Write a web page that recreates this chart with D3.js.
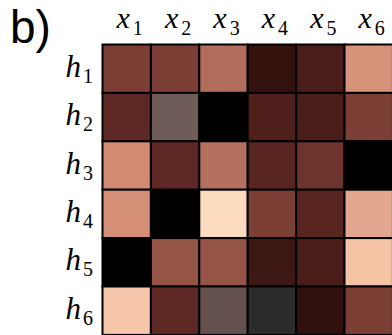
<!DOCTYPE html>
<html>
<head>
<meta charset="utf-8">
<script src="https://cdn.jsdelivr.net/npm/d3@7"></script>
<style>
  html, body { margin: 0; padding: 0; background: #fff; overflow: hidden; }
  svg { display: block; }
</style>
</head>
<body>
<svg id="chart" width="392" height="335"></svg>
<script>
// Column (input) and row (hidden unit) labels
const cols = ["1", "2", "3", "4", "5", "6"];
const rows = ["1", "2", "3", "4", "5", "6"];

// Weight magnitude per cell, row-major (rows h1..h6, columns x1..x6), 0 = dark, 1 = light
const values = [
  [0.40, 0.40, 0.60, 0.12, 0.20, 0.73],
  [0.30, 0.47, 0.00, 0.22, 0.20, 0.40],
  [0.70, 0.30, 0.61, 0.27, 0.35, 0.00],
  [0.72, 0.00, 1.00, 0.40, 0.27, 0.80],
  [0.00, 0.50, 0.50, 0.15, 0.20, 0.90],
  [0.91, 0.30, 0.42, 0.20, 0.11, 0.40]
];

// Colour saturation per cell (1 = full colour, 0 = grey)
const saturation = [
  [1, 1, 1, 1, 1, 1],
  [1, 0.3, 1, 1, 1, 1],
  [1, 1, 1, 1, 1, 1],
  [1, 1, 1, 1, 1, 1],
  [1, 1, 1, 1, 1, 1],
  [1, 1, 0.3, 0, 1, 1]
];

// Colour ramp stops
const rampStops = [0, 0.1, 0.2, 0.3, 0.4, 0.5, 0.6, 0.7, 0.8, 0.9, 1];
const rampColors = ["#000000", "#2e100d", "#4a1d19", "#5e2924", "#7b3f35", "#955546",
                    "#b26e5b", "#d28a71", "#e2a78e", "#f5c4a5", "#fddcbe"];

const svg = d3.select("#chart");
const gridLeft = 102.5, gridTop = 44.5, cellSize = 48.4;

const x = d3.scaleBand().domain(cols).range([gridLeft, gridLeft + cellSize * cols.length]).padding(0);
const y = d3.scaleBand().domain(rows).range([gridTop, gridTop + cellSize * rows.length]).padding(0);
const color = d3.scaleLinear().domain(rampStops).range(rampColors).interpolate(d3.interpolateRgb).clamp(true);

function cellColor(v, s) {
  const c = d3.hcl(color(v));
  c.c = (isNaN(c.c) ? 0 : c.c) * s;
  if (isNaN(c.h)) c.h = 0;
  return c.formatHex();
}

const cells = [];
rows.forEach((r, i) => cols.forEach((cname, j) => {
  cells.push({ r, c: cname, v: values[i][j], s: saturation[i][j] });
}));

svg.append("g").selectAll("rect")
  .data(cells)
  .join("rect")
  .attr("x", d => x(d.c))
  .attr("y", d => y(d.r))
  .attr("width", x.bandwidth())
  .attr("height", y.bandwidth())
  .attr("fill", d => cellColor(d.v, d.s))
  .attr("stroke", "#000")
  .attr("stroke-width", 2);

const mathFont = "'Liberation Serif', 'DejaVu Serif', serif";

// Column labels x_j above the grid
const colLab = svg.append("g").selectAll("text")
  .data(cols)
  .join("text")
  .attr("x", d => x(d) + x.bandwidth() / 2 + 3)
  .attr("y", 28)
  .attr("text-anchor", "middle")
  .attr("font-family", mathFont)
  .attr("font-size", 30);
colLab.append("tspan").attr("font-style", "italic").text("x");
colLab.append("tspan").attr("font-size", 20).attr("dx", 3).attr("dy", 7).text(d => d);

// Row labels h_i to the left of the grid
const rowLab = svg.append("g").selectAll("text")
  .data(rows)
  .join("text")
  .attr("x", 93)
  .attr("y", d => y(d) + y.bandwidth() / 2 + 8)
  .attr("text-anchor", "end")
  .attr("font-family", mathFont)
  .attr("font-size", 31);
rowLab.append("tspan").attr("font-style", "italic").text("h");
rowLab.append("tspan").attr("font-size", 20).attr("dx", 2).attr("dy", 6).text(d => d);

// Panel tag
svg.append("text")
  .attr("x", 10)
  .attr("y", 43)
  .attr("font-family", "'Liberation Sans', 'DejaVu Sans', sans-serif")
  .attr("font-size", 46)
  .text("b)");
</script>
</body>
</html>
